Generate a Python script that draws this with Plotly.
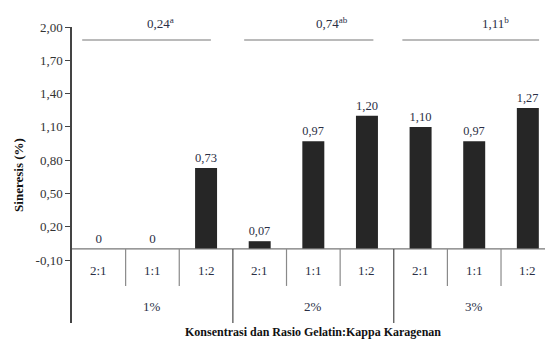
import plotly.graph_objects as go

# Syneresis (%) per concentration and gelatin:kappa-carrageenan ratio
ratios = ["2:1", "1:1", "1:2", "2:1", "1:1", "1:2", "2:1", "1:1", "1:2"]
concentrations = ["1%", "2%", "3%"]
sineresis = [0, 0, 0.73, 0.07, 0.97, 1.20, 1.10, 0.97, 1.27]
group_means = ["0,24<sup>a</sup>", "0,74<sup>ab</sup>", "1,11<sup>b</sup>"]
y_ticks = [-0.10, 0.20, 0.50, 0.80, 1.10, 1.40, 1.70, 2.00]

serif = "Liberation Serif, Times New Roman, serif"
label_col = "#2b2f45"

x_idx = list(range(len(ratios)))
bar_text = ["0" if v == 0 else f"{v:.2f}".replace(".", ",") for v in sineresis]
tick_text = [f"{v:.2f}".replace(".", ",") for v in y_ticks]

fig = go.Figure()
fig.add_trace(go.Bar(
    x=x_idx, y=sineresis, width=0.41,
    marker=dict(color="#262626", line=dict(width=0)),
    text=bar_text, textposition="outside", cliponaxis=False,
    textfont=dict(family=serif, size=13, color=label_col),
))

y_bottom = -0.667
shapes = []
annotations = []

# baseline of the category axis at zero
shapes.append(dict(type="line", xref="x", yref="y", x0=-0.5, x1=8.6, y0=0, y1=0,
                   line=dict(color="#777777", width=1.2)))

# dividers between ratio categories and between concentration groups
for i in range(1, len(ratios)):
    is_group = i % 3 == 0
    shapes.append(dict(type="line", xref="x", yref="y", x0=i - 0.5, x1=i - 0.5,
                       y0=0, y1=y_bottom if is_group else -0.333,
                       line=dict(color="#4a4a4a" if is_group else "#8a8a8a", width=1.2)))

for i, r in enumerate(ratios):
    annotations.append(dict(x=i, y=-0.19, xref="x", yref="y", text=r, showarrow=False,
                            font=dict(family=serif, size=13, color=label_col)))

for g, c in enumerate(concentrations):
    annotations.append(dict(x=g * 3 + 1, y=-0.52, xref="x", yref="y", text=c, showarrow=False,
                            font=dict(family=serif, size=13, color=label_col)))

# group mean lines with significance letters
line_spans = [(-0.31, 2.09), (2.71, 5.12), (5.66, 8.21)]
label_x = [1.15, 4.35, 7.4]
for (a, b), lx, txt in zip(line_spans, label_x, group_means):
    shapes.append(dict(type="line", xref="x", yref="y", x0=a, x1=b, y0=1.883, y1=1.883,
                       line=dict(color="#777777", width=1.2)))
    annotations.append(dict(x=lx, y=1, xref="x", yref="paper", yshift=4, yanchor="middle",
                            text=txt, showarrow=False,
                            font=dict(family=serif, size=13, color=label_col)))

annotations.append(dict(x=4, y=0, xref="x", yref="paper", yshift=-9, yanchor="middle",
                        text="<b>Konsentrasi dan Rasio Gelatin:Kappa Karagenan</b>",
                        showarrow=False, font=dict(family=serif, size=12, color="#111111")))

fig.update_layout(
    width=545, height=340,
    margin=dict(l=72, r=0, t=27, b=17),
    paper_bgcolor="white", plot_bgcolor="white",
    showlegend=False,
    shapes=shapes, annotations=annotations,
    font=dict(family=serif, size=13, color=label_col),
    xaxis=dict(range=[-0.5, 8.32], showticklabels=False, showgrid=False,
               zeroline=False, showline=False, ticks=""),
    yaxis=dict(range=[y_bottom, 2.0], tickvals=y_ticks, ticktext=tick_text,
               showgrid=False, zeroline=False, showline=True, linecolor="#444444",
               linewidth=1.5, ticks="outside", ticklen=5, tickcolor="#444444",
               tickfont=dict(family=serif, size=13, color="#333333"),
               title=dict(text="<b>Sineresis (%)</b>", standoff=9,
                          font=dict(family=serif, size=13, color="#111111"))),
)

fig.write_html("out.html")
